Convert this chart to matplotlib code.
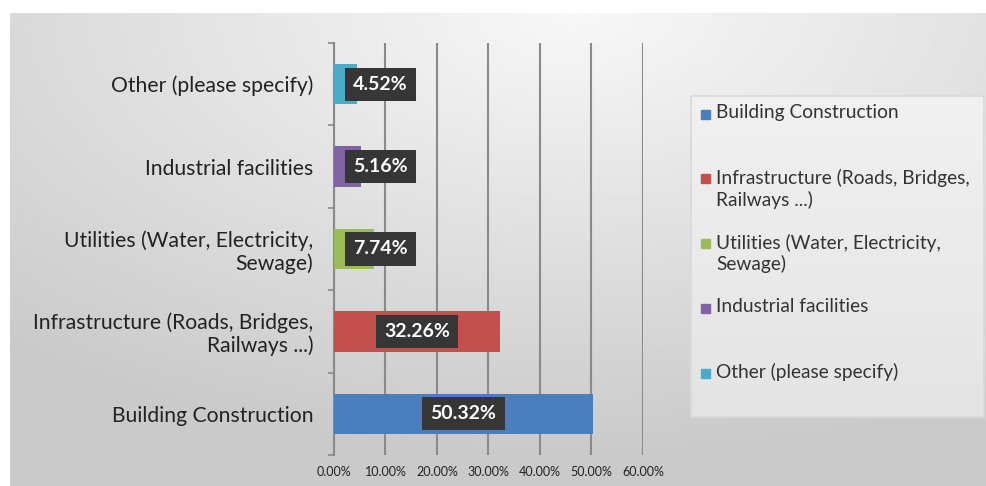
import matplotlib.pyplot as plt
import numpy as np
from matplotlib.patches import Rectangle

categories = ['Building Construction', 'Infrastructure (Roads, Bridges,\nRailways ...)',
              'Utilities (Water, Electricity,\nSewage)', 'Industrial facilities',
              'Other (please specify)']
values = [50.32, 32.26, 7.74, 5.16, 4.52]
colors = ['#4a7ebf', '#c4504d', '#9bbb59', '#8064a2', '#4bacc6']
xticks = [0, 10, 20, 30, 40, 50, 60]

plt.rcParams['font.family'] = ['Lato', 'DejaVu Sans']

W, H = 987, 486
fig = plt.figure(figsize=(W / 100, H / 100), dpi=100)

# chart area background, light near top centre and greyer towards the edges
bg = fig.add_axes([10 / W, 0, 977 / W, 473 / H])
yy, xx = np.mgrid[0:1:200j, 0:1:400j]
dist = np.sqrt(((xx - 0.58) * 0.85) ** 2 + ((yy - 0.0) * 0.8) ** 2)
shade = np.clip(0.97 - 0.24 * dist, 0.79, 0.97)
bg.imshow(shade, cmap='gray', vmin=0, vmax=1, aspect='auto', extent=[0, 1, 1, 0])
bg.set_axis_off()

ax = fig.add_axes([334 / W, 1 - 455 / H, 309 / W, 412 / H])
ax.patch.set_alpha(0)
y = np.arange(len(categories))
ax.barh(y, values, height=0.49, color=colors, zorder=3)

ax.set_xlim(0, 60)
ax.set_ylim(-0.5, len(categories) - 0.5)
ax.set_xticks(xticks)
ax.set_xticklabels([f'{v:.2f}%' for v in xticks], fontsize=9, color='#222222')
ax.tick_params(axis='x', length=0, pad=8)
ax.grid(axis='x', color='#8a8a8a', linewidth=1.5, zorder=1)

ax.set_yticks(y)
ax.set_yticklabels(categories, fontsize=15.2, color='#222222', linespacing=1.15)
ax.tick_params(axis='y', length=0, pad=15)
ax.set_yticks(np.arange(-0.5, len(categories)), minor=True)
ax.tick_params(axis='y', which='minor', length=4, color='#8a8a8a', width=1.2)
for s in ['top', 'right', 'bottom']:
    ax.spines[s].set_visible(False)
ax.spines['left'].set_color('#8a8a8a')
ax.spines['left'].set_linewidth(1.5)

# data labels, centred on bars but kept clear of the axis
for yi, v in zip(y, values):
    xpos = max(v / 2, 9.0)
    ax.text(xpos, yi, f'{v:.2f}%', ha='center', va='center', fontsize=14,
            fontweight='bold', color='white', zorder=5,
            bbox=dict(boxstyle='square,pad=0.42', fc='#363636', ec='none'))

# legend
lx0, ly0, lx1, ly1 = 690, 95, 985, 418
leg = fig.add_axes([lx0 / W, 1 - ly1 / H, (lx1 - lx0) / W, (ly1 - ly0) / H])
leg.set_xlim(lx0, lx1)
leg.set_ylim(ly1, ly0)
gy = np.linspace(0.94, 0.89, 50).reshape(-1, 1)
leg.imshow(gy, cmap='gray', vmin=0, vmax=1, aspect='auto', extent=[lx0, lx1, ly1, ly0])
leg.add_patch(Rectangle((lx0 + 1, ly0 + 1), lx1 - lx0 - 2, ly1 - ly0 - 2, fill=False,
                        ec='#d8d8d8', lw=1.2))
leg.set_axis_off()
for i, (lab, c) in enumerate(zip(categories, colors)):
    ty = 114 + i * 64.8
    leg.add_patch(Rectangle((701, ty - 4.5), 9, 9, color=c))
    leg.text(716, ty - 10, lab, fontsize=13.8, color='#333333', va='top', ha='left',
             linespacing=1.25)

fig.savefig('out.png', dpi=100)
